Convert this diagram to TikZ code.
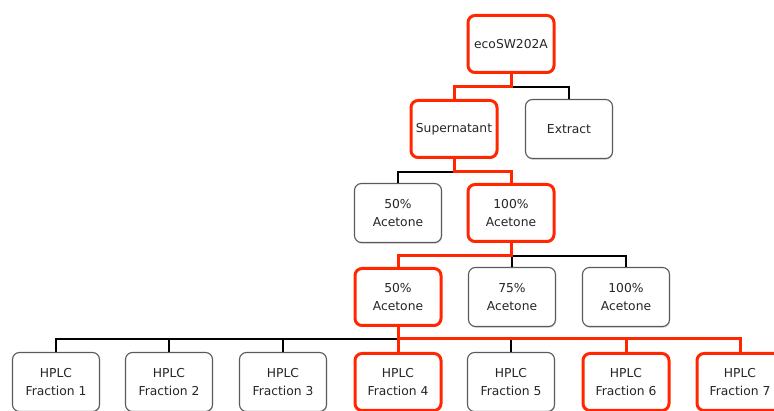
\documentclass[tikz,border=0pt]{standalone}
\usepackage{fontspec}
\setmainfont{DejaVu Sans}
\usetikzlibrary{shadows}

\definecolor{hired}{RGB}{255,38,0}
\definecolor{boxgray}{RGB}{90,90,90}

\tikzset{
    box/.style={draw=boxgray, line width=1.1pt, rounded corners=7pt,
        fill=white, minimum width=87pt, minimum height=59pt, align=center,
        text=black!85, font=\fontsize{12.3}{17.5}\selectfont,
        drop shadow={opacity=0.25, shadow xshift=0.6pt, shadow yshift=-1.4pt}},
    hibox/.style={box, draw=hired, line width=3pt, minimum width=86pt, minimum height=57pt},
    blk/.style={draw=black, line width=1.6pt},
    hil/.style={draw=hired, line width=3pt}
}

\begin{document}
\begin{tikzpicture}[x=1pt, y=-1pt]
    \clip (0,0) rectangle (774,411);
    \fill[white] (0,0) rectangle (774,411);

    % boxes
    \node[hibox] (eco) at (511,44) {ecoSW202A};
    \node[hibox] (sup) at (454,129) {Supernatant};
    \node[box] (extr) at (569,129) {Extract};
    \node[box] (aceA) at (398,213) {50\%\\Acetone};
    \node[hibox] (aceB) at (511,213) {100\%\\Acetone};
    \node[hibox] (subA) at (398,297) {50\%\\Acetone};
    \node[box] (subB) at (512,297) {75\%\\Acetone};
    \node[box] (subC) at (626,297) {100\%\\Acetone};
    \foreach \x/\n in {56/1,169/2,283/3,511/5} {
        \node[box] (frac\n) at (\x,382) {HPLC\\Fraction \n};
    }
    \foreach \x/\n in {398/4,626/6,740/7} {
        \node[hibox] (frac\n) at (\x,382) {HPLC\\Fraction \n};
    }

    % black connectors
    \draw[blk] (eco.south) -- +(0,13) -| (extr.north);
    \draw[blk] (sup.south) -- +(0,13) -| (aceA.north);
    \draw[blk] (aceB.south) -- +(0,13) -| (subB.north);
    \draw[blk] (aceB.south) -- +(0,13) -| (subC.north);
    \foreach \n in {1,2,3} {
        \draw[blk] (subA.south) -- +(0,12) -| (frac\n.north);
    }
    \draw[blk] (subA.south) -- +(0,12) -| (frac5.north);

    % highlighted path
    \draw[hil] (eco.south) -- +(0,13) -| (sup.north);
    \draw[hil] (sup.south) -- +(0,13) -| (aceB.north);
    \draw[hil] (aceB.south) -- +(0,13) -| (subA.north);
    \draw[hil] (subA.south) -- (frac4.north);
    \foreach \n in {6,7} {
        \draw[hil] (subA.south) -- +(0,12) -| (frac\n.north);
    }
\end{tikzpicture}
\end{document}
